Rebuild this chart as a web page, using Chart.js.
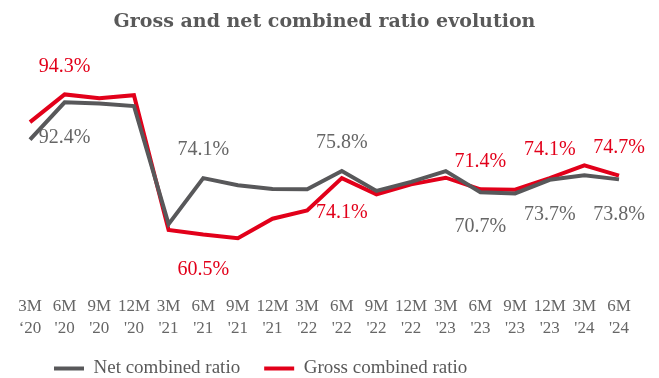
<!DOCTYPE html>
<html>
<head>
  <meta charset="UTF-8">
  <title>Combined ratio evolution</title>
  <script src="https://cdn.jsdelivr.net/npm/chart.js"></script>
  <style>
    html, body {
      margin: 0;
      padding: 0;
      background: #ffffff;
    }
    #wrap {
      width: 659px;
      height: 378px;
    }
  </style>
</head>
<body>
  <div id="wrap">
    <canvas id="ratioChart" width="659" height="378"></canvas>
  </div>

  <script>
    // Quarter labels, two lines each
    const periods = ['3M', '6M', '9M', '12M', '3M', '6M', '9M', '12M', '3M', '6M', '9M', '12M', '3M', '6M', '9M', '12M', '3M', '6M'];
    const years = ['‘20', "'20", "'20", "'20", "'21", "'21", "'21", "'21", "'22", "'22", "'22", "'22", "'23", "'23", "'23", "'23", "'24", "'24"];

    // Combined ratios in %
    const netRatio = [83.4, 92.4, 92.1, 91.5, 63.0, 74.1, 72.4, 71.5, 71.4, 75.8, 71.0, 73.2, 75.8, 70.7, 70.4, 73.7, 74.8, 73.8];
    const grossRatio = [87.6, 94.3, 93.4, 94.1, 61.6, 60.5, 59.6, 64.3, 66.3, 74.1, 70.2, 72.6, 74.2, 71.4, 71.3, 74.1, 77.2, 74.7];

    // Which points carry a value label, and on which side of the line
    const netLabelSide = [null, 'below', null, null, null, 'above', null, null, null, 'above', null, null, null, 'below', null, 'below', null, 'below'];
    const grossLabelSide = [null, 'above', null, null, null, 'below', null, null, null, 'below', null, null, null, 'above', null, 'above', null, 'above'];

    const GREY = '#58585a';
    const RED = '#e2001a';
    const FONT = "'Liberation Serif', serif";

    const valueLabels = {
      id: 'valueLabels',
      afterDatasetsDraw(chart) {
        const ctx = chart.ctx;
        const sides = [netLabelSide, grossLabelSide];
        ctx.save();
        ctx.font = '20px ' + FONT;
        ctx.textAlign = 'center';
        ctx.textBaseline = 'middle';
        chart.data.datasets.forEach((ds, i) => {
          const meta = chart.getDatasetMeta(i);
          ctx.fillStyle = i === 0 ? '#666666' : RED;
          meta.data.forEach((pt, j) => {
            const side = sides[i][j];
            if (!side) return;
            const dy = side === 'above' ? -28 : 35;
            ctx.fillText(ds.data[j].toFixed(1) + '%', pt.x, pt.y + dy);
          });
        });
        ctx.restore();
      }
    };

    new Chart(document.getElementById('ratioChart'), {
      type: 'line',
      data: {
        labels: periods.map((p, i) => [p, years[i]]),
        datasets: [{
          label: 'Net combined ratio',
          data: netRatio,
          borderColor: GREY,
          backgroundColor: GREY,
          borderWidth: 4,
          pointRadius: 0,
          tension: 0
        }, {
          label: 'Gross combined ratio',
          data: grossRatio,
          borderColor: RED,
          backgroundColor: RED,
          borderWidth: 4,
          pointRadius: 0,
          tension: 0
        }]
      },
      options: {
        responsive: false,
        animation: false,
        layout: {
          padding: { left: 30, right: 40, top: 0, bottom: -10 }
        },
        scales: {
          x: {
            grid: { display: false, drawTicks: false },
            border: { display: false },
            ticks: {
              autoSkip: false,
              maxRotation: 0,
              padding: 17,
              color: '#666666',
              font: { family: FONT, size: 17, lineHeight: 1.3 }
            },
            afterFit(scale) {
              scale.height = 57;
            }
          },
          y: {
            display: false,
            min: 50,
            max: 100
          }
        },
        plugins: {
          title: {
            display: true,
            text: 'Gross and net combined ratio evolution',
            color: '#595959',
            font: { family: "'DejaVu Serif', serif", size: 19, weight: 'bold' },
            padding: { top: 11, bottom: 37 }
          },
          legend: {
            position: 'bottom',
            align: 'start',
            labels: {
              color: '#595959',
              font: { family: FONT, size: 19 },
              boxWidth: 30,
              boxHeight: 4,
              padding: 24,
              // flat swatches, no outline
              generateLabels(chart) {
                return Chart.defaults.plugins.legend.labels.generateLabels(chart)
                  .map(item => ({ ...item, lineWidth: 0 }));
              }
            }
          },
          tooltip: { enabled: false }
        }
      },
      plugins: [valueLabels]
    });
  </script>
</body>
</html>
